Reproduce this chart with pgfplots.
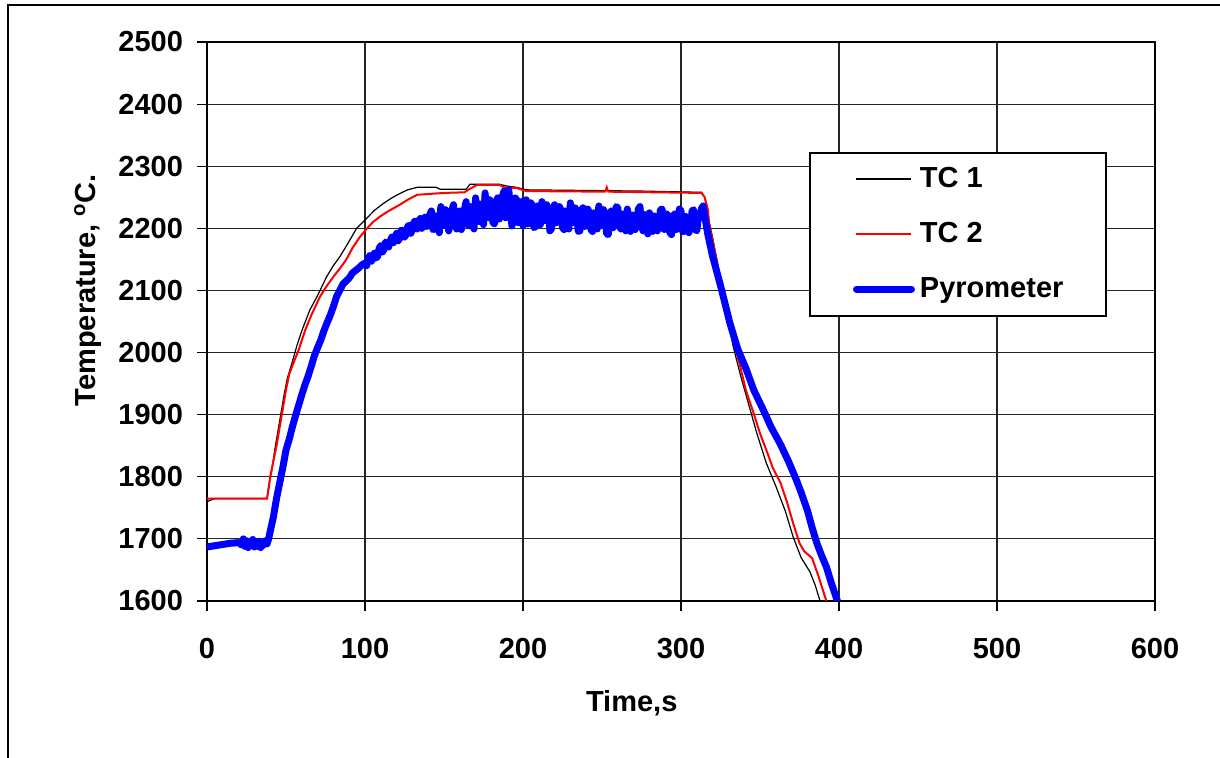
\documentclass[border=0pt]{standalone}
\usepackage{pgfplots}
\pgfplotsset{compat=1.18}
\usepackage{fontspec}
\setmainfont{Liberation Sans}
\newcommand{\lf}{\fontsize{14.5}{17}\selectfont\bfseries}
\begin{document}
\begin{tikzpicture}
\useasboundingbox (-103.5pt,-78.5pt) rectangle (506.5pt,300.5pt);
\draw[line width=1pt] (-99.5pt,-78.5pt) -- (-99.5pt,298pt) -- (506.5pt,298pt);
\begin{axis}[
  at={(0,0)}, anchor=south west,
  scale only axis, width=474pt, height=279.5pt,
  xmin=0, xmax=600, ymin=1600, ymax=2500,
  xtick={0,100,...,600}, ytick={1600,1700,...,2500},
  grid=major, major grid style={black!85, line width=0.6pt},
  axis line style={line width=1pt},
  tick align=outside, tick pos=left, major tick length=5pt,
  tick style={black, line width=0.6pt},
  /pgf/number format/1000 sep={},
  /pgf/number format/assume math mode=true,
  ticklabel style={font=\lf},
  xticklabel style={yshift=-10pt},
  yticklabel style={xshift=-3.5pt},
  xlabel={Time,s}, ylabel={Temperature, \textsuperscript{o}C.},
  label style={font=\lf},
  xlabel style={at={(axis description cs:0.448,-0.1825)}, anchor=center},
  ylabel style={at={(axis description cs:-0.1255,0.556)}, anchor=center, rotate=0},
  legend style={at={(0.635,0.804)}, anchor=north west, draw=black, line width=1pt,
    font=\lf, inner xsep=21.5pt, inner ysep=6.25pt, row sep=13.5pt,
    nodes={inner sep=0pt, text height=11pt, text depth=3pt},
    /tikz/every odd column/.append style={column sep=2.5pt}},
  legend cell align=left,
  legend image code/.code={\draw[#1] (0pt,0pt) -- (27.5pt,0pt);},
]
\addplot[black, line width=0.6pt] coordinates {
(0,1760) (5,1765) (38,1765) (39,1785) (41,1810) (43,1845) (45,1875) (47,1905) (49,1935) (51,1960) (54,1985) (57,2012) (60,2035) (65,2068) (70,2092) (75.7,2122) (80,2140) (84,2154) (89,2175) (94.7,2200) (101,2216) (106,2229) (111.6,2240) (117,2249) (122,2256) (127,2262) (133,2266) (145,2266) (147.5,2263) (164,2263) (166.5,2271) (185,2271) (190,2268) (196,2266) (202,2262) (275,2260) (313,2258) (315,2250) (317,2220) (320,2185) (323,2145) (328,2080) (333,2010) (338,1960) (343,1915) (348,1870) (354,1822) (360,1785) (366,1745) (371,1703) (376,1670) (381.6,1647) (385,1625) (388,1600)
};
\addlegendentry{TC 1}
\addplot[red, line width=1pt] coordinates {
(0,1765) (38,1765) (39,1780) (40,1800) (42,1825) (44,1850) (46,1880) (48,1910) (50,1940) (52,1965) (55,1985) (58,2004) (62,2035) (66,2060) (71.5,2090) (76,2108) (80,2122) (84,2135) (88,2149) (92,2168) (97,2187) (101,2199) (105,2210) (109.5,2219) (115,2228) (122,2238) (127,2246) (133,2254) (150,2257) (163,2258) (166,2263) (171,2270) (185,2270) (188,2266) (196,2265) (202,2260) (252,2259) (253,2266) (254,2259) (313,2257) (315,2250) (317,2230) (318,2203) (320,2180) (322.6,2149) (326,2100) (331,2036) (337,1983) (341,1940) (346,1902) (350,1870) (354,1843) (358,1815) (363,1790) (367,1760) (371,1725) (375,1693) (378,1680) (383,1669) (387,1640) (392,1600)
};
\addlegendentry{TC 2}
\addplot[blue, line width=3.5pt, line join=round, line cap=round] coordinates {
(0,1687) (5,1689) (10,1691) (15,1693) (20,1694) (22,1690) (23,1700) (24,1688) (25,1697) (26,1686) (27,1695) (28,1689) (29,1699) (30,1687) (31,1694) (32,1688) (33,1696) (34,1686) (35,1693) (36,1690) (37,1697) (38,1692) (39,1700) (40,1712) (42,1735) (44,1765) (46,1790) (48,1815) (50,1843) (52,1860) (54,1880) (56,1898) (58,1915) (60,1932) (62,1948) (64,1962) (66,1978) (68,1995) (70,2008) (72,2020) (74,2035) (76,2048) (78,2060) (80,2074) (82,2090) (84,2100) (86,2110) (88,2115) (90,2120) (92,2128) (94,2132) (96,2136) (98,2141)
(100,2144) (101,2140) (102,2150) (103,2156) (104,2147) (105,2153) (106,2160) (107,2152) (108,2155) (109,2168) (110,2172) (111,2162) (112,2166) (113,2178) (114,2175) (115,2170) (116,2180) (117,2186) (118,2177) (119,2183) (120,2192) (121,2180) (122,2184) (123,2197) (124,2196) (125,2186) (126,2190) (127,2203) (128,2205) (129,2192)
(130,2198) (131,2210) (132,2212) (133,2199) (134,2204) (135,2216) (136,2200) (137,2209) (138,2218) (139,2203) (140,2210) (141,2222) (142,2228) (143,2198) (144,2199) (145,2220) (146,2214) (147,2193) (148,2235) (149,2206) (150,2204) (151,2230) (152,2219) (153,2196) (154,2211) (155,2228) (156,2238) (157,2206) (158,2199) (159,2223) (160,2228)
(161,2198) (162,2212) (163,2231) (164,2243) (165,2207) (166,2204) (167,2235) (168,2219) (169,2199) (170,2249) (171,2220) (172,2211) (173,2239) (174,2230) (175,2206) (176,2257) (177,2225) (178,2217) (179,2246) (180,2238) (181,2209) (182,2207) (183,2243) (184,2249) (185,2215) (186,2227) (187,2252) (188,2260) (189,2217) (190,2220) (191,2262) (192,2233) (193,2204) (194,2214) (195,2249) (196,2246) (197,2209) (198,2223) (199,2243) (200,2204)
(201,2235) (202,2246) (203,2207) (204,2222) (205,2241) (206,2235) (207,2201) (208,2203) (209,2236) (210,2231) (211,2206) (212,2243) (213,2214) (214,2212) (215,2238) (216,2225) (217,2196) (218,2199) (219,2231) (220,2238) (221,2209) (222,2219) (223,2235) (224,2230) (225,2201) (226,2198) (227,2228) (228,2222) (229,2199) (230,2241) (231,2212) (232,2209) (233,2233) (234,2220) (235,2195) (236,2196) (237,2230) (238,2233) (239,2203) (240,2214) (241,2231) (242,2225) (243,2198) (244,2195) (245,2225) (246,2219) (247,2199) (248,2236) (249,2212) (250,2206) (251,2230) (252,2215) (253,2191) (254,2190) (255,2225) (256,2228) (257,2201) (258,2211) (259,2235) (260,2233) (261,2203) (262,2199) (263,2223) (264,2214) (265,2196) (266,2231) (267,2211) (268,2195) (269,2222) (270,2220) (271,2198) (272,2209) (273,2231) (274,2235) (275,2204) (276,2196) (277,2222) (278,2212) (279,2191) (280,2225) (281,2206) (282,2195) (283,2220) (284,2217) (285,2196) (286,2206) (287,2230) (288,2231) (289,2199) (290,2198) (291,2223) (292,2219) (293,2193) (294,2190) (295,2220) (296,2223) (297,2198) (298,2209) (299,2231) (300,2228) (301,2195) (302,2195) (303,2219) (304,2215) (305,2193) (306,2203) (307,2228) (308,2230) (309,2198) (310,2196) (311,2220) (312,2217) (313,2232) (314,2236) (315,2220)
(317,2190) (320,2155) (325,2108) (331,2047) (336,2005) (341,1975) (346,1940) (352,1908) (357,1880) (363,1852) (368,1825) (373,1795) (376,1775) (380,1746) (383,1718) (386,1693) (389,1673) (392,1655) (395,1630) (399,1600)
};
\addlegendentry{Pyrometer}
\end{axis}
\end{tikzpicture}
\end{document}
